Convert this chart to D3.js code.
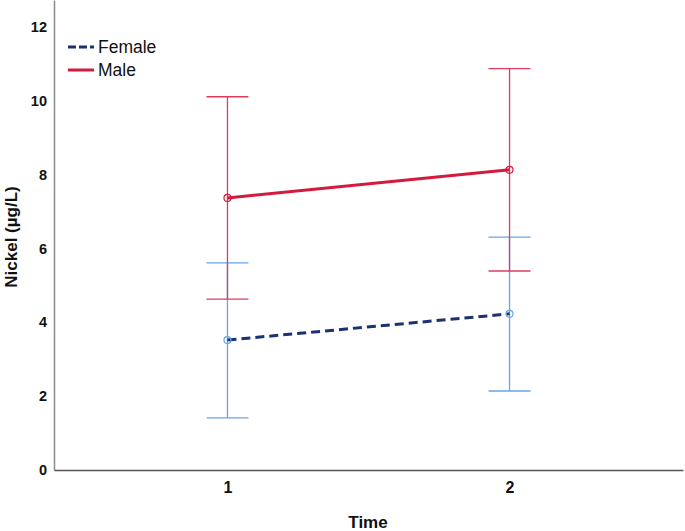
<!DOCTYPE html>
<html>
<head>
<meta charset="utf-8">
<script src="https://cdn.jsdelivr.net/npm/d3@7"></script>
<style>
  body { margin: 0; background: #fff; }
  text { font-family: "Liberation Sans", Arial, sans-serif; }
</style>
</head>
<body>
<div id="wrapper"></div>
<script>
// data
const times = ["1", "2"];
const femaleMean = [3.52, 4.23];
const femaleLow = [1.41, 2.14];
const femaleHigh = [5.61, 6.31];
const maleMean = [7.37, 8.13];
const maleLow = [4.63, 5.39];
const maleHigh = [10.11, 10.87];
const yTicks = [0, 2, 4, 6, 8, 10, 12];

const series = [
    { name: "Female", mean: femaleMean, low: femaleLow, high: femaleHigh,
      line: "#1b3272", bar: "#6aa3e6", dash: "9,5" },
    { name: "Male", mean: maleMean, low: maleLow, high: maleHigh,
      line: "#d51a3e", bar: "#dc3d5f", dash: null }
];

const dimension = {
    width: 685,
    height: 531,
    margin: { top: 0, left: 54, bottom: 61, right: 2 }
};
dimension.boundedWidth = dimension.width - dimension.margin.left - dimension.margin.right;
dimension.boundedHeight = dimension.height - dimension.margin.top - dimension.margin.bottom;

const svg = d3.select("#wrapper").append("svg")
    .attr("width", dimension.width)
    .attr("height", dimension.height);
const bounded = svg.append("g")
    .attr("transform", `translate(${dimension.margin.left},${dimension.margin.top})`);

const xScaler = d3.scalePoint()
    .domain(times)
    .range([0, dimension.boundedWidth])
    .padding(0.615);
const yScaler = d3.scaleLinear()
    .domain([0, 12.73])
    .range([dimension.boundedHeight, 0]);

// y axis
const yAxis = bounded.append("g")
    .call(d3.axisLeft(yScaler).tickValues(yTicks).tickSize(0).tickPadding(7));
yAxis.select(".domain").attr("stroke", "#8a8a8a").attr("stroke-width", 1.5);
yAxis.selectAll("text")
    .attr("font-size", 14.5).attr("font-weight", "bold").attr("fill", "#111");

// x axis
const xAxis = bounded.append("g")
    .attr("transform", `translate(0,${dimension.boundedHeight})`)
    .call(d3.axisBottom(xScaler).tickSize(0).tickPadding(12));
xAxis.select(".domain").attr("stroke", "#555").attr("stroke-width", 1.5);
xAxis.selectAll("text")
    .attr("font-size", 16).attr("font-weight", "bold").attr("fill", "#111");

// axis titles
svg.append("text")
    .attr("x", 368).attr("y", 528)
    .attr("text-anchor", "middle")
    .attr("font-size", 17).attr("font-weight", "bold").attr("fill", "#111")
    .text("Time");
svg.append("text")
    .attr("transform", "translate(17,237) rotate(-90)")
    .attr("text-anchor", "middle")
    .attr("font-size", 17).attr("font-weight", "bold").attr("fill", "#111")
    .text("Nickel (µg/L)");

const capHalf = 21;
const lineGenerator = d3.line()
    .x((d, i) => xScaler(times[i]))
    .y(d => yScaler(d));

series.forEach(s => {
    const g = bounded.append("g");
    times.forEach((t, i) => {
        const x = xScaler(t);
        g.append("line")
            .attr("x1", x).attr("x2", x)
            .attr("y1", yScaler(s.low[i])).attr("y2", yScaler(s.high[i]))
            .attr("stroke", s.bar).attr("stroke-width", 1.3);
        [s.low[i], s.high[i]].forEach(v => {
            g.append("line")
                .attr("x1", x - capHalf).attr("x2", x + capHalf)
                .attr("y1", yScaler(v)).attr("y2", yScaler(v))
                .attr("stroke", s.bar).attr("stroke-width", 1.3);
        });
    });
});

series.forEach(s => {
    bounded.append("path")
        .attr("d", lineGenerator(s.mean))
        .attr("fill", "none")
        .attr("stroke", s.line)
        .attr("stroke-width", 3)
        .attr("stroke-dasharray", s.dash);
    bounded.selectAll(null)
        .data(s.mean)
        .join("circle")
        .attr("cx", (d, i) => xScaler(times[i]))
        .attr("cy", d => yScaler(d))
        .attr("r", 3.5)
        .attr("fill", "none")
        .attr("stroke", s.name === "Male" ? s.line : s.bar)
        .attr("stroke-width", 1.2);
});

// legend
const legend = svg.append("g").attr("transform", "translate(68,47)");
series.forEach((s, i) => {
    const row = legend.append("g").attr("transform", `translate(0,${i * 23})`);
    row.append("line")
        .attr("x1", 0).attr("x2", 26)
        .attr("stroke", s.line).attr("stroke-width", 3)
        .attr("stroke-dasharray", s.dash ? "8,3" : null);
    row.append("text")
        .attr("x", 30).attr("y", 6)
        .attr("font-size", 17.5).attr("fill", "#111")
        .text(s.name);
});
</script>
</body>
</html>
